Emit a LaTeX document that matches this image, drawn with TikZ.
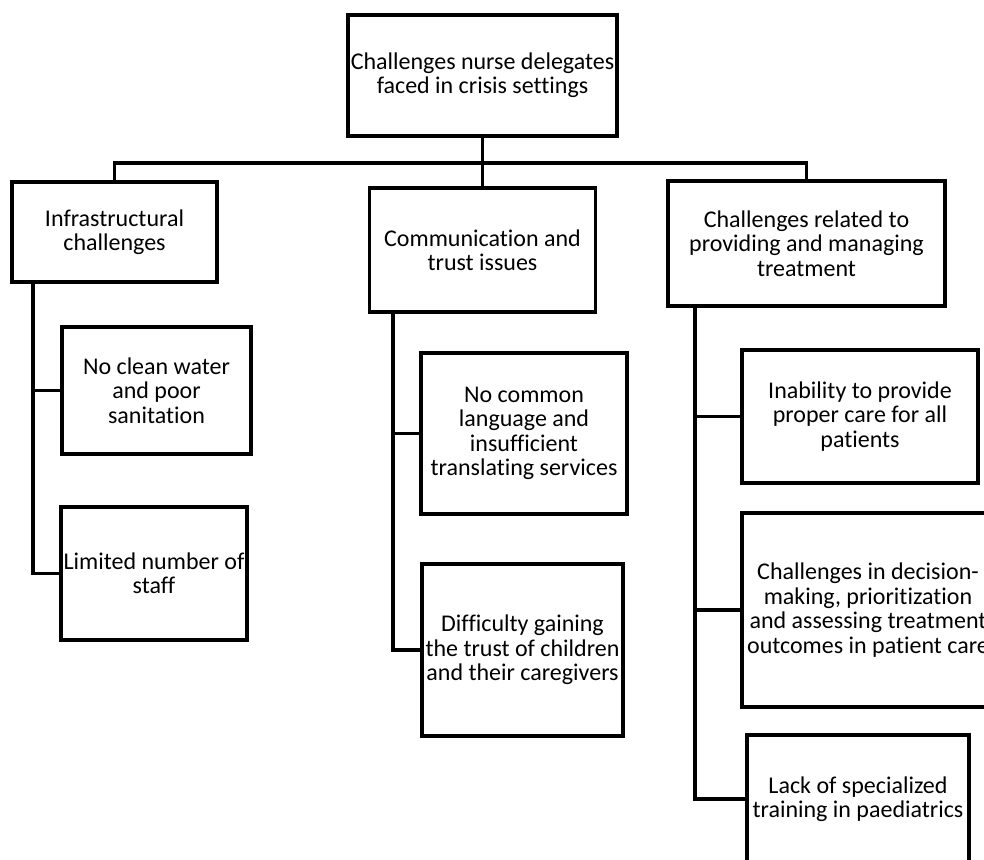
\documentclass[tikz,border=0pt]{standalone}
\usepackage{fontspec}
\setmainfont{Carlito}[Ligatures=NoCommon]
\usepackage{tikz}

\begin{document}
\begin{tikzpicture}[
x=0.5pt,y=-0.5pt,
font=\fontsize{12}{12.2}\selectfont,
cbox/.style={draw,line width=1.6pt,align=center,inner sep=1pt},
link/.style={line width=1.6pt},
]
\useasboundingbox (0,0) rectangle (984,859);
\clip (0,0) rectangle (984,859);

% top and first level
\node[cbox,minimum width=134.5pt,minimum height=60.5pt] (root) at (482.5,75.5) {Challenges nurse delegates\\faced in crisis settings};
\node[cbox,minimum width=102.5pt,minimum height=50pt] (infra) at (114.5,232) {Infrastructural\\challenges};
\node[cbox,minimum width=113pt,minimum height=62pt] (comm) at (482.5,250) {Communication and\\trust issues};
\node[cbox,minimum width=138.5pt,minimum height=62.5pt] (treat) at (806.5,243.5) {Challenges related to\\providing and managing\\treatment};

% second level
\node[cbox,minimum width=94.5pt,minimum height=63.5pt] (water) at (156.5,390.5) {No clean water\\and poor\\sanitation};
\node[cbox,minimum width=93pt,minimum height=66.5pt] (staff) at (154,573.5) {Limited number of\\staff};
\node[cbox,minimum width=103pt,minimum height=80.5pt] (lang) at (524,433.5) {No common\\language and\\insufficient\\translating services};
\node[cbox,minimum width=100.5pt,minimum height=86pt] (trust) at (522.5,650) {Difficulty gaining\\the trust of children\\and their caregivers};
\node[cbox,minimum width=118pt,minimum height=66.5pt] (care) at (860,416.5) {Inability to provide\\proper care for all\\patients};
\node[cbox,minimum width=126pt,minimum height=97pt] (decide) at (868,610) {Challenges in decision-\\making, prioritization\\and assessing treatment\\outcomes in patient care};
\node[cbox,minimum width=111pt,minimum height=64pt] (paed) at (858,799) {Lack of specialized\\training in paediatrics};

% joints
\coordinate (top) at (482.5,163);
\coordinate (lspine) at (33,0);
\coordinate (mspine) at (393,0);
\coordinate (rspine) at (695,0);

\draw[link] (root) -- (top);
\draw[link] (top) -| (infra);
\draw[link] (top) -- (comm);
\draw[link] (top) -| (treat);

\draw[link] (infra.south -| lspine) |- (water);
\draw[link] (infra.south -| lspine) |- (staff);
\draw[link] (comm.south -| mspine) |- (lang);
\draw[link] (comm.south -| mspine) |- (trust);
\draw[link] (treat.south -| rspine) |- (care);
\draw[link] (treat.south -| rspine) |- (decide);
\draw[link] (treat.south -| rspine) |- (paed);

\end{tikzpicture}
\end{document}
